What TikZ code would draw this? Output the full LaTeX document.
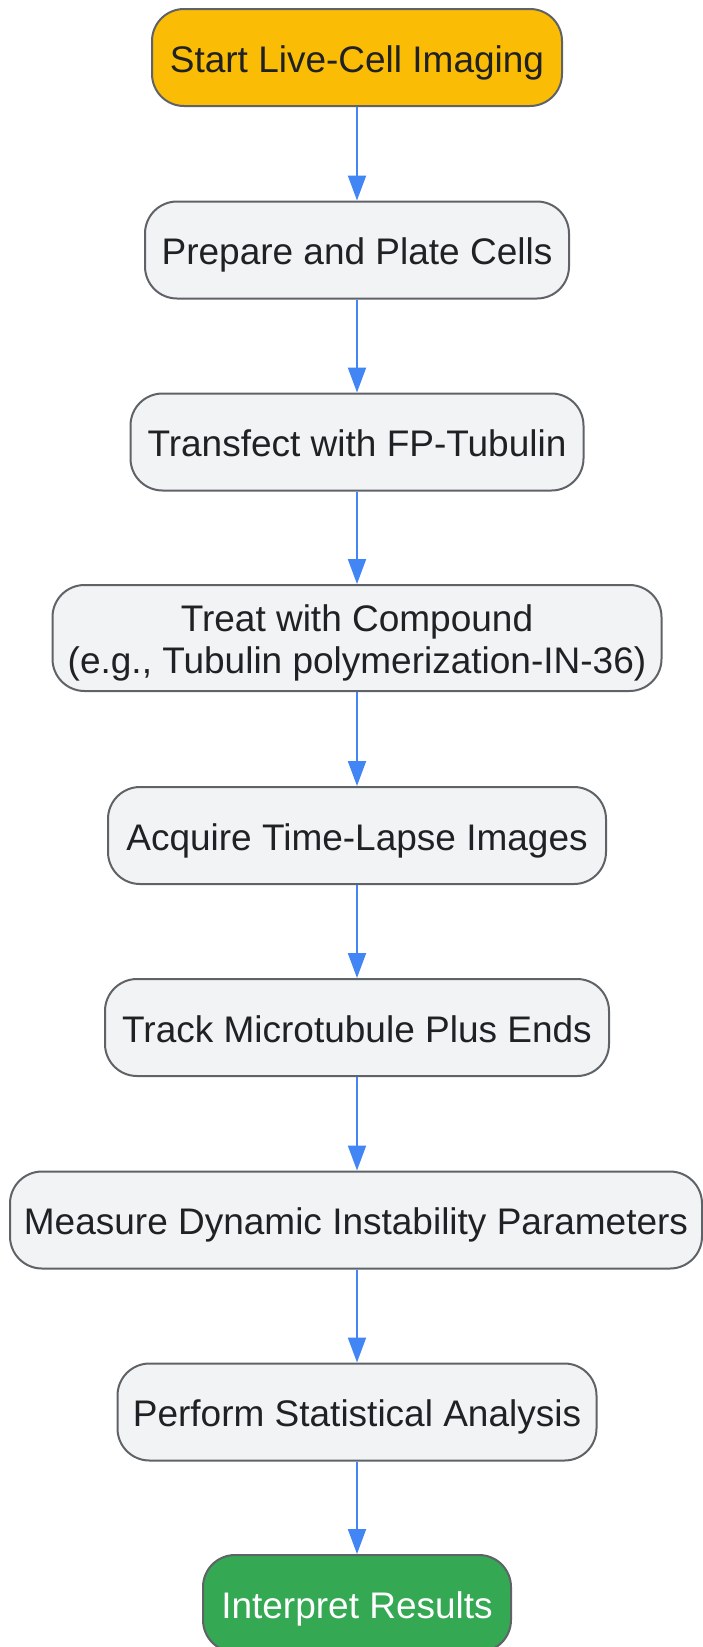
\documentclass[tikz,border=0pt]{standalone}
\usepackage{fontspec}
\setmainfont{Liberation Sans}
\usetikzlibrary{arrows.meta}
\definecolor{yel}{HTML}{FBBC05}
\definecolor{grn}{HTML}{34A853}
\definecolor{boxfill}{HTML}{F1F3F4}
\definecolor{edge}{HTML}{5F6368}
\definecolor{txt}{HTML}{202124}
\definecolor{arrowc}{HTML}{4285F4}
\begin{document}
\begin{tikzpicture}[x=1pt,y=1pt,
  box/.style={draw=edge, line width=2pt, rounded corners=32pt, fill=boxfill, text=txt,
    font=\fontsize{37}{42}\selectfont, align=center, minimum height=97pt, inner sep=0pt,
    text height=29.7pt, text depth=0pt},
  twoline/.style={text height=79.7pt, text depth=8pt, minimum height=106pt},
  arr/.style={draw=arrowc, line width=2pt, -{Triangle[length=25pt,width=18pt]}}]
\useasboundingbox (0,0) rectangle (702,-1647);
\node[box, fill=yel, minimum width=410pt] (n1) at (357,-57.5) {Start Live-Cell Imaging};
\node[box, minimum width=424pt] (n2) at (357,-250) {Prepare and Plate Cells};
\node[box, minimum width=453pt] (n3) at (357,-442) {Transfect with FP-Tubulin};
\node[box, twoline, minimum width=609pt] (n4) at (357,-638) {Treat with Compound\\(e.g., Tubulin polymerization-IN-36)};
\node[box, minimum width=498pt] (n5) at (357,-835.5) {Acquire Time-Lapse Images};
\node[box, minimum width=504pt] (n6) at (357,-1027.5) {Track Microtubule Plus Ends};
\node[box, minimum width=692pt] (n7) at (356,-1220) {Measure Dynamic Instability Parameters};
\node[box, minimum width=479pt] (n8) at (357,-1412) {Perform Statistical Analysis};
\node[box, fill=grn, text=white, minimum width=308pt] (n9) at (357,-1603.5) {Interpret Results};
\draw[arr] (n1.south) -- (n2.north);
\draw[arr] (n2.south) -- (n3.north);
\draw[arr] (n3.south) -- (n4.north);
\draw[arr] (n4.south) -- (n5.north);
\draw[arr] (n5.south) -- (n6.north);
\draw[arr] (n6.south) -- (n6.south |- n7.north);
\draw[arr] (n7.south -| n8.north) -- (n8.north);
\draw[arr] (n8.south) -- (n9.north);
\end{tikzpicture}
\end{document}
